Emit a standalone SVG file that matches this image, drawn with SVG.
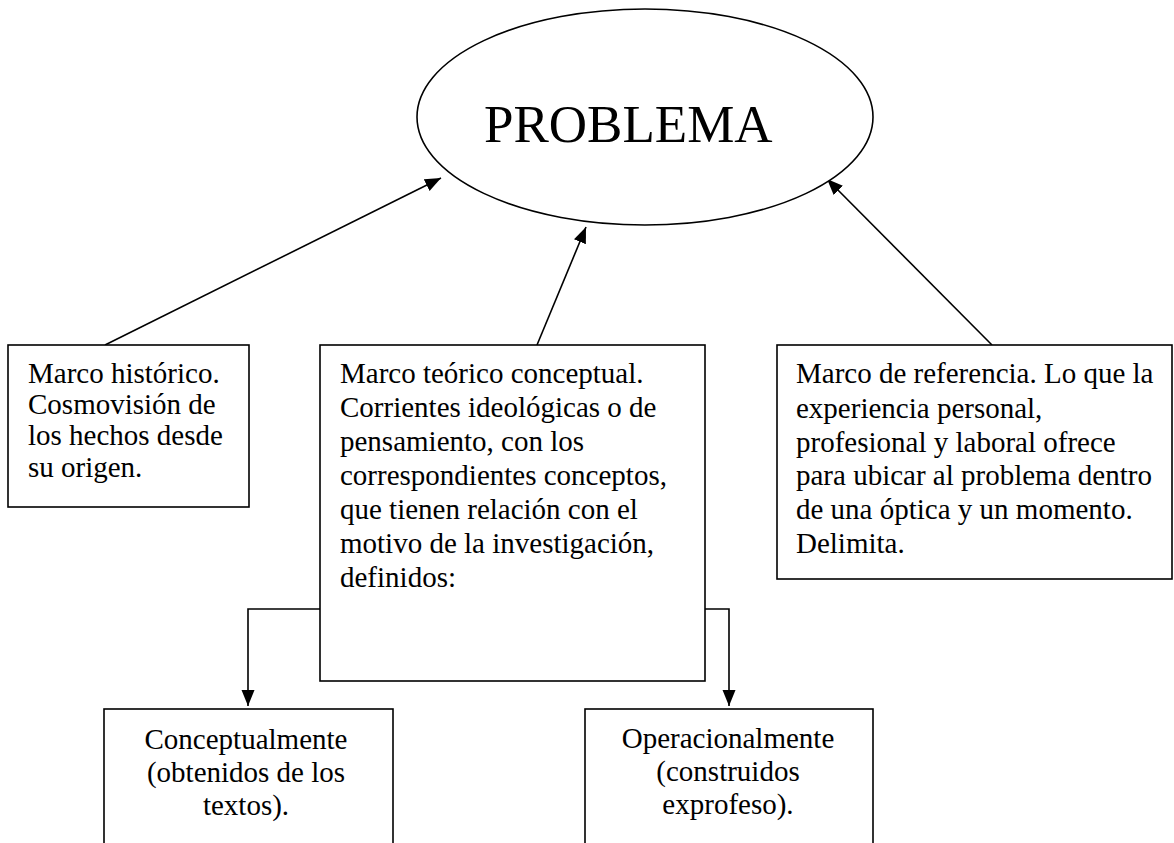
<svg xmlns="http://www.w3.org/2000/svg" width="1174" height="843" viewBox="0 0 1174 843">
<style>
.shape{fill:#fff;stroke:#000;stroke-width:1.6}
.t{font-family:"Liberation Serif","Times New Roman",serif;font-size:29px;fill:#000}
.title{font-family:"Liberation Serif","Times New Roman",serif;font-size:53px;fill:#000}
.c{text-anchor:middle}
.edge{fill:none;stroke:#000;stroke-width:1.6}
</style>
<defs>
<marker id="ah" markerUnits="userSpaceOnUse" markerWidth="18" markerHeight="14" refX="16" refY="6.5" orient="auto">
<path d="M0,0 L16,6.5 L0,13 z" fill="#000"/>
</marker>
</defs>
<rect width="1174" height="843" fill="#fff"/>
<g id="connectors">
<line class="edge" x1="105" y1="345" x2="441" y2="178" marker-end="url(#ah)"/>
<line class="edge" x1="537" y1="345" x2="586" y2="227" marker-end="url(#ah)"/>
<line class="edge" x1="992" y1="345" x2="827" y2="179" marker-end="url(#ah)"/>
<polyline class="edge" points="320,609 248,609 248,706" marker-end="url(#ah)"/>
<polyline class="edge" points="705,609 729,609 729,706" marker-end="url(#ah)"/>
</g>
<g id="problema">
<ellipse class="shape" cx="645" cy="117" rx="228" ry="108"/>
<text class="title" x="484" y="142">PROBLEMA</text>
</g>
<g id="marco-historico">
<rect class="shape" x="8" y="345" width="241" height="162"/>
<text class="t"><tspan x="28" y="383">Marco histórico.</tspan><tspan x="28" y="414">Cosmovisión de</tspan><tspan x="28" y="445">los hechos desde</tspan><tspan x="28" y="477">su origen.</tspan></text>
</g>
<g id="marco-teorico">
<rect class="shape" x="320" y="345" width="385" height="336"/>
<text class="t"><tspan x="340" y="383">Marco teórico conceptual.</tspan><tspan x="340" y="417">Corrientes ideológicas o de</tspan><tspan x="340" y="451">pensamiento, con los</tspan><tspan x="340" y="485">correspondientes conceptos,</tspan><tspan x="340" y="519">que tienen relación con el</tspan><tspan x="340" y="553">motivo de la investigación,</tspan><tspan x="340" y="587">definidos:</tspan></text>
</g>
<g id="marco-referencia">
<rect class="shape" x="777" y="345" width="395" height="234"/>
<text class="t"><tspan x="796" y="383">Marco de referencia. Lo que la</tspan><tspan x="796" y="418">experiencia personal,</tspan><tspan x="796" y="452">profesional y laboral ofrece</tspan><tspan x="796" y="485">para ubicar al problema dentro</tspan><tspan x="796" y="519">de una óptica y un momento.</tspan><tspan x="796" y="553">Delimita.</tspan></text>
</g>
<g id="conceptualmente">
<rect class="shape" x="104" y="709" width="289" height="160"/>
<text class="t c"><tspan x="246" y="749">Conceptualmente</tspan><tspan x="246" y="782">(obtenidos de los</tspan><tspan x="246" y="815">textos).</tspan></text>
</g>
<g id="operacionalmente">
<rect class="shape" x="585" y="709" width="288" height="160"/>
<text class="t c"><tspan x="728" y="748">Operacionalmente</tspan><tspan x="728" y="781">(construidos</tspan><tspan x="728" y="814">exprofeso).</tspan></text>
</g>
</svg>
